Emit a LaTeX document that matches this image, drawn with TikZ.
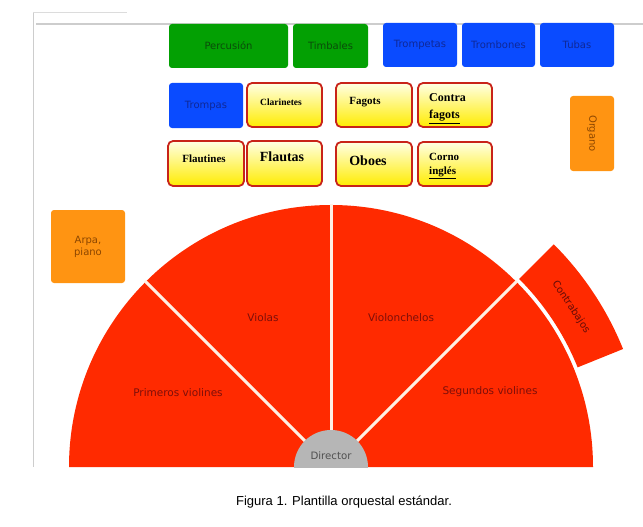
\documentclass[tikz,border=0pt]{standalone}
\usepackage{fontspec}
\setmainfont{DejaVu Sans}
\newfontfamily\boxserif{Liberation Serif}
\newfontfamily\capfont{Liberation Sans}
\definecolor{grn}{RGB}{3,160,3}
\definecolor{grntxt}{RGB}{10,75,10}
\definecolor{blu}{RGB}{10,75,255}
\definecolor{blutxt}{RGB}{15,40,150}
\definecolor{org}{RGB}{255,148,18}
\definecolor{orgtxt}{RGB}{140,70,0}
\definecolor{fanred}{RGB}{255,42,0}
\definecolor{fantxt}{RGB}{125,15,10}
\definecolor{ylwtop}{RGB}{255,255,228}
\definecolor{ylwbot}{RGB}{255,236,0}
\definecolor{redline}{RGB}{200,35,25}
\definecolor{dirgray}{RGB}{182,182,182}
\definecolor{dirtxt}{RGB}{80,80,80}
\definecolor{framegray}{RGB}{205,205,205}
\definecolor{divline}{RGB}{255,240,228}
\tikzset{
  flatbox/.style={rectangle, rounded corners=3pt, inner sep=0pt, font=\fontsize{10}{12}\selectfont},
  greenbox/.style={flatbox, fill=grn, text=grntxt},
  bluebox/.style={flatbox, fill=blu, text=blutxt},
  orangebox/.style={flatbox, fill=org, text=orgtxt},
  woodbox/.style={rectangle, rounded corners=5pt, inner sep=0pt, draw=redline, line width=1.8pt, top color=ylwtop, bottom color=ylwbot},
  woodtxt/.style={inner sep=0pt, font=\boxserif\bfseries},
  fanlabel/.style={inner sep=0pt, text=fantxt, font=\fontsize{10.5}{12}\selectfont},
}
\begin{document}
\begin{tikzpicture}[x=1pt,y=-1pt]
\useasboundingbox (0,0) rectangle (643,527);
% frame of the screenshot
\draw[framegray, line width=1pt] (33,12) -- (33,467);
\draw[framegray!70, line width=0.6pt] (33,12) -- (127,12);
\draw[framegray, line width=1.2pt] (36,24) -- (643,24);

% top row
\node[greenbox, minimum width=119pt, minimum height=44pt] (perc) at (228.5,46) {Percusión};
\node[greenbox, minimum width=75pt, minimum height=44pt] (timb) at (330.5,46) {Timbales};
\node[bluebox, minimum width=74pt, minimum height=44pt] (tpt) at (420,45) {Trompetas};
\node[bluebox, minimum width=73pt, minimum height=44pt] (tbn) at (498.5,45) {Trombones};
\node[bluebox, minimum width=74pt, minimum height=44pt] (tuba) at (577,45) {Tubas};

% second row
\node[bluebox, minimum width=74pt, minimum height=45pt] (trompas) at (206,105.5) {Trompas};
\node[woodbox, minimum width=75pt, minimum height=44pt] (clar) at (284.5,105) {};
\node[woodbox, minimum width=76pt, minimum height=44pt] (fag) at (374,105) {};
\node[woodbox, minimum width=74pt, minimum height=44pt] (cfag) at (455,105) {};
% third row
\node[woodbox, minimum width=76pt, minimum height=45pt] (flautines) at (206,163.5) {};
\node[woodbox, minimum width=75pt, minimum height=45pt] (flautas) at (284.5,163.5) {};
\node[woodbox, minimum width=76pt, minimum height=44pt] (oboes) at (374,164) {};
\node[woodbox, minimum width=74pt, minimum height=44pt] (corno) at (455,164) {};

\node[woodtxt, font=\boxserif\bfseries\fontsize{9.5}{11}\selectfont] (clart) at (281,102) {Clarinetes};
\node[woodtxt, font=\boxserif\bfseries\fontsize{11}{13}\selectfont] (fagt) at (365,102) {Fagots};
\node[woodtxt, anchor=west, font=\boxserif\bfseries\fontsize{12}{14}\selectfont] (cfagt1) at (429,98) {Contra};
\node[woodtxt, anchor=west, font=\boxserif\bfseries\fontsize{12}{14}\selectfont] (cfagt2) at (429,117) {\underline{fagots}};
\node[woodtxt, font=\boxserif\bfseries\fontsize{11}{13}\selectfont] (flautinest) at (204,159) {Flautines};
\node[woodtxt, font=\boxserif\bfseries\fontsize{14}{16}\selectfont] (flautast) at (282,157) {Flautas};
\node[woodtxt, font=\boxserif\bfseries\fontsize{14}{16}\selectfont] (oboest) at (368,161) {Oboes};
\node[woodtxt, anchor=west, font=\boxserif\bfseries\fontsize{11}{13}\selectfont] (cornot1) at (429,157) {Corno};
\node[woodtxt, anchor=west, font=\boxserif\bfseries\fontsize{11}{13}\selectfont] (cornot2) at (429,173) {\underline{inglés}};

% side boxes
\node[orangebox, minimum width=74pt, minimum height=73pt, align=center] (arpa) at (88,246.5) {Arpa,\\piano};
\node[orangebox, minimum width=44pt, minimum height=75pt] (organo) at (592,133.5) {};
\node[inner sep=0pt, rotate=-90, text=orgtxt, font=\fontsize{10}{12}\selectfont] (organot) at (592,133.5) {Organo};

% string fan
\begin{scope}
\clip (0,0) rectangle (643,467);
\fill[fanred] (331,467) ++(0:262pt) arc[start angle=0, end angle=180, radius=262pt] -- cycle;
\draw[divline, line width=3pt] (331,467) -- ++(45:263pt);
\draw[divline, line width=3pt] (331,467) -- ++(90:263pt);
\draw[divline, line width=3pt] (331,467) -- ++(135:263pt);
\node[circle, fill=dirgray, minimum size=74pt, inner sep=0pt] (dir) at (331,467) {};
\end{scope}
\fill[fanred] (331,467) ++(22:266pt) arc[start angle=22, end angle=45, radius=266pt] -- ++(45:49pt) arc[start angle=45, end angle=22, radius=315pt] -- cycle;

\node[inner sep=0pt, text=dirtxt, font=\fontsize{10.2}{12}\selectfont] (dirt) at (331,456) {Director};
\node[fanlabel] (v1) at (178,393) {Primeros violines};
\node[fanlabel] (vla) at (263,318) {Violas};
\node[fanlabel] (vc) at (401,318) {Violonchelos};
\node[fanlabel] (v2) at (490,392) {Segundos violines};
\node[fanlabel, rotate=-56.5, text=fantxt!80!black, font=\fontsize{10}{12}\selectfont] (cb) at (571,307) {Contrabajos};

% caption
\node[inner sep=0pt, font=\capfont\fontsize{13}{15}\selectfont] (cap) at (344,502) {Figura 1. Plantilla orquestal estándar.};
\end{tikzpicture}
\end{document}
